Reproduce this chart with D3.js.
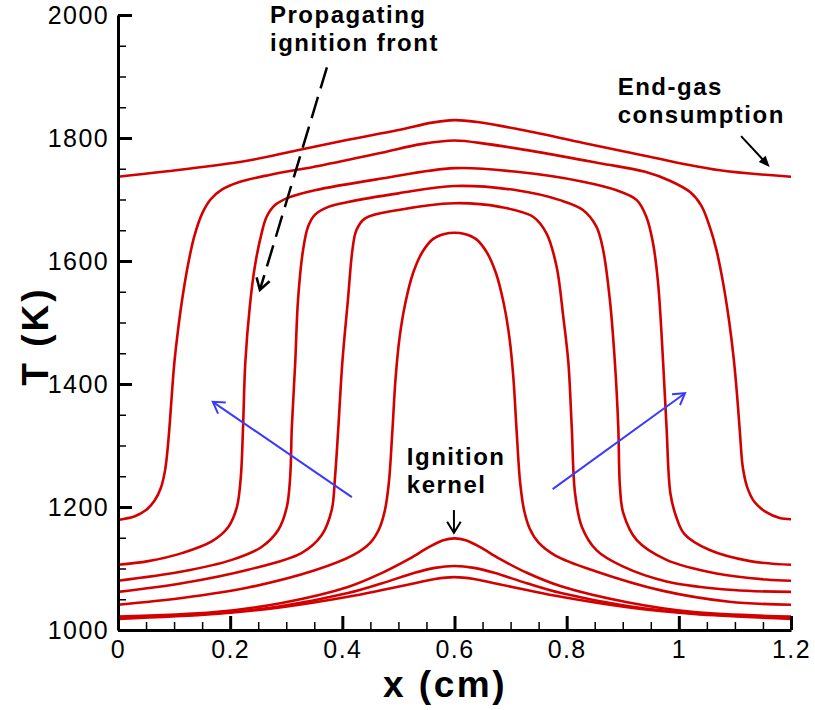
<!DOCTYPE html>
<html>
<head>
<meta charset="utf-8">
<script src="https://cdn.jsdelivr.net/npm/d3@7"></script>
<style>
  body { margin: 0; background: #fff; }
  text { font-family: "Liberation Sans", Arial, Helvetica, sans-serif; }
</style>
</head>
<body>
<svg id="chart" width="815" height="710"></svg>
<script>
// Axis ticks
const xTicks = [0, 0.2, 0.4, 0.6, 0.8, 1, 1.2];
const xTickLabels = ["0", "0.2", "0.4", "0.6", "0.8", "1", "1.2"];
const yTicks = [1000, 1200, 1400, 1600, 1800, 2000];
const yTickLabels = ["1000", "1200", "1400", "1600", "1800", "2000"];

// Temperature profiles T(x) at successive times, each as [x (cm), T (K)]
const kernel1 = [[0,1018],[0.173,1026],[0.292,1037],[0.41,1054],[0.471,1065],[0.529,1076],[0.565,1083],[0.6,1086],
  [0.635,1083],[0.671,1076],[0.729,1065],[0.79,1054],[0.908,1037],[1.027,1026],[1.2,1018]];
const kernel2 = [[0,1020],[0.173,1027],[0.292,1039],[0.41,1060],[0.471,1076],[0.529,1093],[0.565,1101],[0.6,1104],
  [0.635,1101],[0.671,1093],[0.729,1076],[0.79,1060],[0.908,1039],[1.027,1027],[1.2,1020]];
const kernel3 = [[0,1022],[0.173,1029],[0.292,1044],[0.41,1070],[0.471,1093],[0.52,1116],[0.555,1135],[0.58,1146],[0.6,1149],
  [0.62,1146],[0.645,1135],[0.68,1116],[0.729,1093],[0.79,1071],[0.908,1045],[1.027,1029],[1.2,1022]];
const front1 = [[0,1041],[0.114,1052],[0.232,1069],[0.351,1097],[0.42,1122],[0.45,1142],[0.466,1165],[0.476,1195],
  [0.483,1240],[0.489,1320],[0.495,1410],[0.502,1475],[0.512,1530],[0.526,1580],[0.543,1615],[0.562,1636],
  [0.582,1644],[0.6,1646],[0.618,1644],[0.638,1636],[0.657,1615],[0.674,1580],[0.688,1530],[0.698,1475],
  [0.705,1410],[0.711,1320],[0.717,1240],[0.724,1195],[0.734,1165],[0.75,1142],[0.78,1121],[0.85,1096],
  [0.97,1064],[1.09,1046],[1.2,1041]];
const front2 = [[0,1062],[0.114,1076],[0.232,1098],[0.327,1125],[0.363,1154],[0.381,1195],[0.387,1249],[0.393,1331],
  [0.4,1435],[0.41,1537],[0.418,1618],[0.425,1650],[0.44,1669],[0.5,1683],[0.6,1694],
  [0.681,1688],[0.74,1672],[0.764,1645],[0.782,1591],[0.794,1509],[0.803,1435],[0.809,1331],[0.815,1222],
  [0.827,1168],[0.853,1130],[0.901,1103],[0.978,1079],[1.097,1065],[1.2,1062]];
const front3 = [[0,1080],[0.114,1095],[0.203,1114],[0.256,1135],[0.286,1163],[0.301,1200],[0.307,1249],[0.31,1331],
  [0.316,1435],[0.321,1537],[0.33,1618],[0.339,1656],[0.351,1675],[0.375,1688],[0.41,1696],[0.5,1710],[0.6,1722],
  [0.711,1715],[0.788,1699],[0.829,1683],[0.853,1656],[0.865,1618],[0.877,1537],[0.886,1435],[0.892,1331],
  [0.895,1233],[0.901,1190],[0.925,1146],[0.978,1114],[1.067,1092],[1.156,1082],[1.2,1080]];
const front4 = [[0,1106],[0.054,1112],[0.114,1125],[0.167,1144],[0.197,1168],[0.212,1200],[0.219,1249],[0.223,1331],
  [0.227,1435],[0.235,1526],[0.244,1591],[0.256,1645],[0.265,1672],[0.28,1691],[0.304,1703],[0.351,1715],
  [0.47,1734],[0.6,1751],
  [0.711,1745],[0.829,1729],[0.889,1715],[0.925,1699],[0.942,1672],[0.954,1629],[0.963,1564],[0.972,1435],
  [0.978,1331],[0.985,1222],[0.995,1185],[1.01,1156],[1.055,1130],[1.127,1112],[1.2,1106]];
const front5 = [[0,1179],[0.03,1185],[0.05,1195],[0.065,1210],[0.076,1230],[0.084,1260],[0.09,1310],[0.095,1370],
  [0.1,1430],[0.106,1480],[0.114,1535],[0.124,1590],[0.136,1640],[0.15,1677],[0.165,1700],[0.185,1716],
  [0.215,1728],[0.27,1740],[0.36,1755],[0.47,1776],[0.54,1790],[0.6,1796],
  [0.66,1790],[0.75,1777],[0.859,1759],[0.94,1745],[0.985,1730],[1.02,1712],[1.04,1690],[1.055,1656],
  [1.067,1618],[1.079,1564],[1.09,1500],[1.098,1440],[1.104,1380],[1.109,1320],[1.114,1265],[1.122,1232],
  [1.135,1208],[1.155,1192],[1.18,1182],[1.2,1180]];
const endGas = [[0,1737],[0.08,1745],[0.23,1763],[0.32,1780],[0.41,1797],[0.5,1813],[0.56,1825],[0.6,1829],
  [0.64,1826],[0.71,1815],[0.83,1792],[0.95,1769],[1.07,1748],[1.2,1737]];

const profiles = [kernel1, kernel2, kernel3, front1, front2, front3, front4, front5, endGas];

// Annotation labels and arrows, in data coordinates
const labels = [
  { lines: ["Propagating", "ignition front"], x: 0.271, T: 1987 },
  { lines: ["End-gas", "consumption"], x: 0.891, T: 1870 },
  { lines: ["Ignition", "kernel"], x: 0.515, T: 1268 }
];
const arrows = [
  { from: [0.3725, 1915], to: [0.253, 1553], color: "#000", dash: "22,9", head: "open", width: 2.5 },
  { from: [1.111, 1803], to: [1.162, 1753], color: "#000", dash: null, head: "filled", width: 2 },
  { from: [0.599, 1195], to: [0.599, 1158], color: "#000", dash: null, head: "open", width: 2 },
  { from: [0.417, 1216], to: [0.169, 1371], color: "#3a3aff", dash: null, head: "open", width: 2 },
  { from: [0.775, 1229], to: [1.011, 1385], color: "#3a3aff", dash: null, head: "open", width: 2 }
];

const svg = d3.select("#chart");
const x = d3.scaleLinear().domain([0, 1.2]).range([118, 791]);
const y = d3.scaleLinear().domain([1000, 2000]).range([630, 15]);

// Temperature curves
const line = d3.line()
  .x(d => x(d[0]))
  .y(d => y(d[1]))
  .curve(d3.curveCatmullRom.alpha(0.5));

svg.append("g").selectAll("path")
  .data(profiles)
  .join("path")
  .attr("d", line)
  .attr("fill", "none")
  .attr("stroke", "#d40000")
  .attr("stroke-width", 2.6)
  .attr("stroke-linejoin", "round");

// Minor ticks
const xMinor = d3.range(0, 1.2001, 0.05).filter(v => Math.abs(v / 0.2 - Math.round(v / 0.2)) > 1e-6);
const yMinor = d3.range(1000, 2001, 50).filter(v => v % 200 !== 0);

svg.append("g")
  .attr("transform", "translate(0,630)")
  .call(d3.axisBottom(x).tickValues(xMinor).tickSize(-8).tickFormat(""))
  .call(g => g.select(".domain").remove())
  .call(g => g.selectAll("line").attr("stroke-width", 1.5));
svg.append("g")
  .attr("transform", "translate(118,0)")
  .call(d3.axisLeft(y).tickValues(yMinor).tickSize(-8).tickFormat(""))
  .call(g => g.select(".domain").remove())
  .call(g => g.selectAll("line").attr("stroke-width", 1.5));

// Major axes
const xAxis = svg.append("g")
  .attr("transform", "translate(0,630)")
  .call(d3.axisBottom(x).tickValues(xTicks).tickFormat((d, i) => xTickLabels[i])
    .tickSizeInner(-14).tickSizeOuter(0).tickPadding(10));
const yAxis = svg.append("g")
  .attr("transform", "translate(118,0)")
  .call(d3.axisLeft(y).tickValues(yTicks).tickFormat((d, i) => yTickLabels[i])
    .tickSizeInner(-14).tickSizeOuter(0).tickPadding(9));

[xAxis, yAxis].forEach(g => {
  g.select(".domain").attr("stroke-width", 3);
  g.selectAll(".tick line").attr("stroke-width", 3);
  g.selectAll(".tick text")
    .attr("font-family", "'Liberation Sans', Arial, sans-serif")
    .attr("font-size", 25)
    .attr("letter-spacing", "1.4px")
    .attr("fill", "#000");
});

// Axis titles
svg.append("text")
  .attr("x", 445).attr("y", 697)
  .attr("text-anchor", "middle")
  .attr("font-size", 37).attr("font-weight", "bold")
  .attr("letter-spacing", "2.5px")
  .text("x (cm)");
svg.append("text")
  .attr("transform", "translate(48,336) rotate(-90)")
  .attr("text-anchor", "middle")
  .attr("font-size", 37).attr("font-weight", "bold")
  .attr("letter-spacing", "3px")
  .text("T (K)");

// Annotation text
labels.forEach(l => {
  const t = svg.append("text")
    .attr("x", x(l.x)).attr("y", y(l.T))
    .attr("font-size", 24).attr("font-weight", "bold")
    .attr("letter-spacing", "1.5px");
  l.lines.forEach((s, i) => {
    t.append("tspan").attr("x", x(l.x)).attr("dy", i === 0 ? 0 : 28).text(s);
  });
});

// Annotation arrows
arrows.forEach(a => {
  const x1 = x(a.from[0]), y1 = y(a.from[1]);
  const x2 = x(a.to[0]), y2 = y(a.to[1]);
  const ang = Math.atan2(y2 - y1, x2 - x1);
  const L = a.head === "filled" ? 12 : 13, th = a.head === "filled" ? 0.4 : 0.55;
  const p1 = [x2 - L * Math.cos(ang - th), y2 - L * Math.sin(ang - th)];
  const p2 = [x2 - L * Math.cos(ang + th), y2 - L * Math.sin(ang + th)];
  const shaft = svg.append("line")
    .attr("x1", x1).attr("y1", y1)
    .attr("x2", a.head === "filled" ? x2 - 8 * Math.cos(ang) : x2)
    .attr("y2", a.head === "filled" ? y2 - 8 * Math.sin(ang) : y2)
    .attr("stroke", a.color).attr("stroke-width", a.width);
  if (a.dash) shaft.attr("stroke-dasharray", a.dash);
  if (a.head === "filled") {
    svg.append("path")
      .attr("d", `M${x2},${y2}L${p1[0]},${p1[1]}L${p2[0]},${p2[1]}Z`)
      .attr("fill", a.color);
  } else {
    svg.append("path")
      .attr("d", `M${p1[0]},${p1[1]}L${x2},${y2}L${p2[0]},${p2[1]}`)
      .attr("fill", "none").attr("stroke", a.color)
      .attr("stroke-width", a.width).attr("stroke-linejoin", "miter");
  }
});
</script>
</body>
</html>
